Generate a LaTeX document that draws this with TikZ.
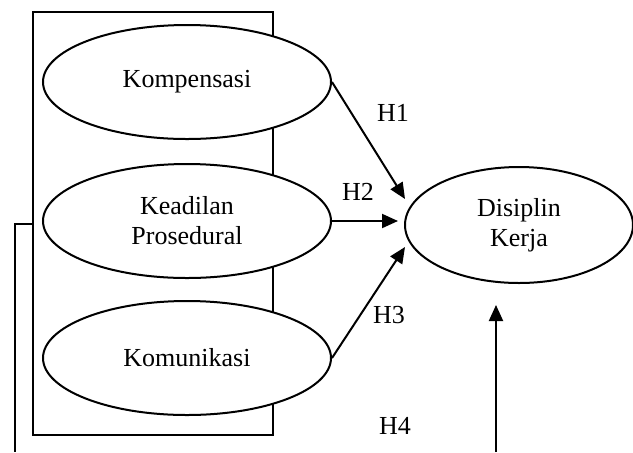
\documentclass[tikz,border=0pt]{standalone}
\usepackage{fontspec}
\setmainfont{Liberation Serif}
\usepackage{tikz}
\usetikzlibrary{arrows.meta,positioning,shapes.geometric}

\begin{document}
\begin{tikzpicture}
[x=0.5pt,y=-0.5pt,line width=1pt,>={Triangle[length=8pt,width=7pt]},
  var node/.style={ellipse,draw,fill=white,inner sep=0pt,minimum width=144pt,minimum height=57pt,align=center,font=\fontsize{13}{15}\selectfont},
  hyp node/.style={font=\fontsize{13}{15}\selectfont}]

  \useasboundingbox (0,0) rectangle (633,452);

  \node [draw,minimum width=120pt,minimum height=211.5pt,inner sep=0pt] (group) at (153,223.5) {};

  \node [var node] (Kompensasi) at 	(187,82) 	{Kompensasi};
  \node [var node] (Keadilan) at 	(187,221) 	{Keadilan\\Prosedural};
  \node [var node] (Komunikasi) at 	(187,358) 	{Komunikasi};
  \node [var node,minimum width=114pt,minimum height=58pt] (Disiplin) at (519,225) {Disiplin\\Kerja};

  \coordinate (t1) at (405,199);
  \coordinate (t2) at (398,221);
  \coordinate (t3) at (405,247);
  \coordinate (t4) at (496,305);
  \coordinate (b4) at (496,452);
  \coordinate (b0) at (15,452);

  \node [hyp node] (H1) at (393,113) {H1};
  \node [hyp node] (H2) at (358,192) {H2};
  \node [hyp node] (H3) at (389,315) {H3};
  \node [hyp node] (H4) at (395,426) {H4};

   \foreach \from/\to in {Kompensasi.east/t1,Keadilan.east/t2,Komunikasi.east/t3,b4/t4}
     \draw [->] (\from) -- (\to);

  \draw (group.west) -| (b0);

\end{tikzpicture}
\end{document}
